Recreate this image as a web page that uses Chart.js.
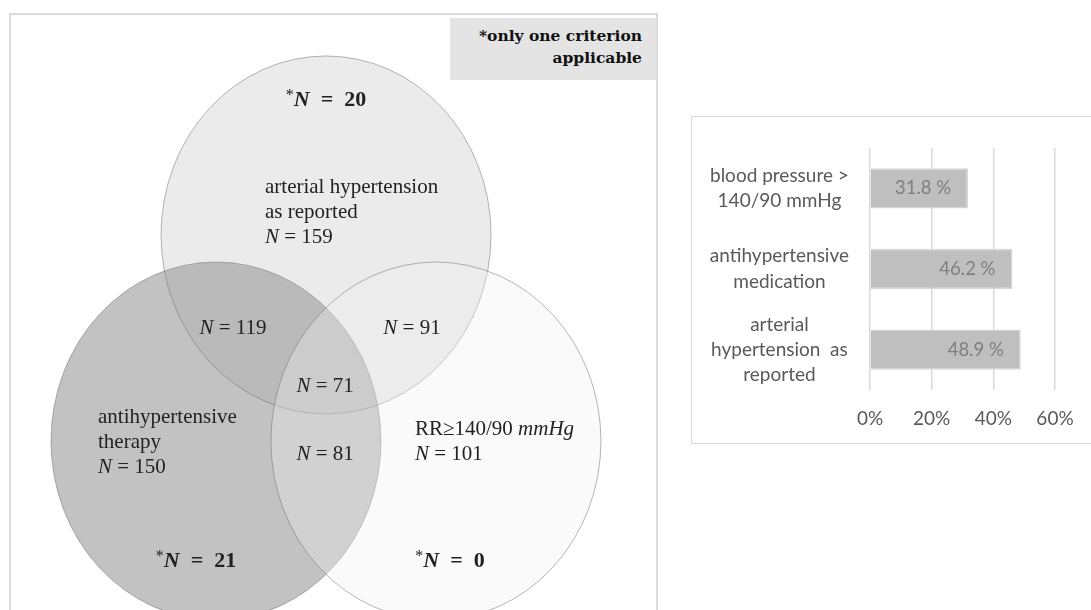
<!DOCTYPE html>
<html>
<head>
<meta charset="utf-8">
<title>Hypertension criteria</title>
<script src="https://cdn.jsdelivr.net/npm/chart.js@4.4.1/dist/chart.umd.min.js"></script>
<style>
  html, body { margin: 0; padding: 0; background: #fff; overflow: hidden; }
  body { width: 1091px; height: 610px; position: relative; }
  .frame { position: absolute; box-sizing: border-box; border: 2px solid #dadada; }
  #vennFrame { left: 9px; top: 13px; width: 649px; height: 700px; }
  #barFrame { left: 691px; top: 116px; width: 500px; height: 328px; border-width: 1.5px; }
  .note {
    position: absolute; left: 450px; top: 18px; width: 206px; height: 62px;
    background: #e4e4e4; box-sizing: border-box; padding: 7px 14px 0 0;
    text-align: right; font: bold 15.5px "DejaVu Serif", serif; line-height: 22px; color: #111;
  }
  #vennBox { position: absolute; left: 0; top: 0; width: 670px; height: 610px; }
  #barBox { position: absolute; left: 692px; top: 118px; width: 399px; height: 325px; }
</style>
</head>
<body>
<div class="frame" id="vennFrame"></div>
<div class="frame" id="barFrame"></div>
<div id="vennBox"><canvas id="venn"></canvas></div>
<div class="note">*only one criterion<br>applicable</div>
<div id="barBox"><canvas id="bars"></canvas></div>
<script>
// venn counts
const setNames = [
  ["arterial hypertension", "as reported"],
  ["antihypertensive", "therapy"],
  ["RR≥140/90 mmHg"],
];
const setTotals = [159, 150, 101];
const onlyOne = [20, 21, 0];
const pairNames = ["hypertension + therapy", "hypertension + RR", "therapy + RR"];
const pairCounts = [119, 91, 81];
const allThree = 71;

// bar chart
const barLabels = [
  ["blood pressure >", "140/90 mmHg"],
  ["antihypertensive", "medication"],
  ["arterial", "hypertension  as", "reported"],
];
const barValues = [31.8, 46.2, 48.9];
const axisMax = 60;
const axisStep = 20;

// venn layout, in venn units (circle radius = 1)
const vennCircles = [
  { x: 0.667, y: 1.151, fill: "rgba(157,157,157,0.2)" },
  { x: 0, y: 0, fill: "rgba(140,140,140,0.53)" },
  { x: 1.333, y: 0, fill: "rgba(240,240,240,0.33)" },
];
const drawOrder = [1, 0, 2];
const spots = {
  sets: [[0.297, 1.419], [-0.715, 0.134], [1.206, 0.067]],
  only: [[0.667, 1.905], [-0.121, -0.67], [1.418, -0.67]],
  pairs: [[0.103, 0.631], [1.188, 0.631], [0.661, -0.078]],
  all: [0.661, 0.307],
};

const serif = '"Liberation Serif", "Times New Roman", serif';
const textSize = 21;
const lineGap = 25;

function drawRuns(ctx, runs, x, y, align) {
  let w = 0;
  runs.forEach((r) => {
    ctx.font = r.font;
    w += ctx.measureText(r.text).width;
  });
  let cx = align === "center" ? x - w / 2 : x;
  runs.forEach((r) => {
    ctx.font = r.font;
    ctx.fillText(r.text, cx, y + (r.dy || 0));
    cx += ctx.measureText(r.text).width;
  });
}

function countRuns(n, starred) {
  if (starred) {
    return [
      { text: "*", font: `16px ${serif}`, dy: -4 },
      { text: "N", font: `bold italic 22px ${serif}` },
      { text: "\u2002=\u2002" + n, font: `bold 22px ${serif}` },
    ];
  }
  return [
    { text: "N", font: `italic ${textSize}px ${serif}` },
    { text: " = " + n, font: `${textSize}px ${serif}` },
  ];
}

function lineRuns(line) {
  // unit is set in math italic
  if (line.endsWith("mmHg")) {
    return [
      { text: line.slice(0, -4), font: `${textSize}px ${serif}` },
      { text: "mmHg", font: `italic ${textSize}px ${serif}` },
    ];
  }
  return [{ text: line, font: `${textSize}px ${serif}` }];
}

const vennPlugin = {
  id: "venn",
  beforeDatasetsDraw(chart) {
    const { ctx } = chart;
    const sx = chart.scales.x;
    const sy = chart.scales.y;
    const rx = sx.getPixelForValue(1) - sx.getPixelForValue(0);
    const ry = sy.getPixelForValue(0) - sy.getPixelForValue(1);
    ctx.save();
    drawOrder.forEach((i) => {
      const c = vennCircles[i];
      ctx.beginPath();
      ctx.ellipse(sx.getPixelForValue(c.x), sy.getPixelForValue(c.y), rx, ry, 0, 0, Math.PI * 2);
      ctx.fillStyle = c.fill;
      ctx.fill();
      ctx.lineWidth = 1;
      ctx.strokeStyle = "rgba(110,110,110,0.5)";
      ctx.stroke();
    });

    ctx.fillStyle = "#222";
    ctx.textBaseline = "middle";
    ctx.textAlign = "left";
    const px = (p) => [sx.getPixelForValue(p[0]), sy.getPixelForValue(p[1])];

    setNames.forEach((lines, i) => {
      const [x, y] = px(spots.sets[i]);
      lines.forEach((line, k) => drawRuns(ctx, lineRuns(line), x, y + k * lineGap, "left"));
      drawRuns(ctx, countRuns(setTotals[i], false), x, y + lines.length * lineGap, "left");
    });
    onlyOne.forEach((n, i) => {
      const [x, y] = px(spots.only[i]);
      drawRuns(ctx, countRuns(n, true), x, y, "center");
    });
    pairCounts.forEach((n, i) => {
      const [x, y] = px(spots.pairs[i]);
      drawRuns(ctx, countRuns(n, false), x, y, "center");
    });
    const [ax, ay] = px(spots.all);
    drawRuns(ctx, countRuns(allThree, false), ax, ay, "center");
    ctx.restore();
  },
};

new Chart(document.getElementById("venn"), {
  type: "scatter",
  data: {
    datasets: [
      {
        data: vennCircles.map((c) => ({ x: c.x, y: c.y })),
        pointRadius: 0,
      },
    ],
  },
  options: {
    responsive: true,
    maintainAspectRatio: false,
    animation: false,
    layout: { padding: 0 },
    plugins: { legend: { display: false }, tooltip: { enabled: false } },
    scales: {
      x: { type: "linear", display: false, min: -1.309, max: 2.7515 },
      y: { type: "linear", display: false, min: -0.944, max: 2.4637 },
    },
  },
  plugins: [vennPlugin],
});

const barValueLabels = {
  id: "barValueLabels",
  afterDatasetsDraw(chart) {
    const { ctx } = chart;
    const meta = chart.getDatasetMeta(0);
    ctx.save();
    ctx.font = "18.5px Lato";
    ctx.fillStyle = "#7f7f7f";
    ctx.textAlign = "right";
    ctx.textBaseline = "middle";
    meta.data.forEach((bar, i) => {
      ctx.fillText(barValues[i].toFixed(1) + " %", bar.x - 17, bar.y);
    });
    ctx.restore();
  },
};

new Chart(document.getElementById("bars"), {
  type: "bar",
  data: {
    labels: barLabels,
    datasets: [
      {
        data: barValues,
        backgroundColor: "#bfbfbf",
        borderColor: "#d6d6d6",
        borderWidth: 1.5,
        barPercentage: 0.5,
        categoryPercentage: 1,
      },
    ],
  },
  options: {
    indexAxis: "y",
    responsive: true,
    maintainAspectRatio: false,
    animation: false,
    layout: { padding: { top: 30, right: 36, left: 0, bottom: 0 } },
    plugins: { legend: { display: false }, tooltip: { enabled: false } },
    scales: {
      x: {
        min: 0,
        max: axisMax,
        ticks: {
          stepSize: axisStep,
          callback: (v) => v + "%",
          color: "#595959",
          font: { family: "Lato", size: 19 },
          padding: 17,
        },
        grid: { color: "#d9d9d9", lineWidth: 1.5, drawTicks: false },
        border: { display: false },
        afterFit: (s) => {
          s.height = 53;
          s.paddingLeft = 0;
          s.paddingRight = 0;
        },
      },
      y: {
        ticks: {
          autoSkip: false,
          color: "#595959",
          font: { family: "Lato", size: 19, lineHeight: 1.33 },
          crossAlign: "center",
          padding: 21,
        },
        grid: { display: false, drawTicks: false },
        border: { display: false },
        afterFit: (s) => {
          s.width = 178;
          s.paddingTop = 0;
          s.paddingBottom = 0;
        },
      },
    },
  },
  plugins: [barValueLabels],
});
</script>
</body>
</html>
